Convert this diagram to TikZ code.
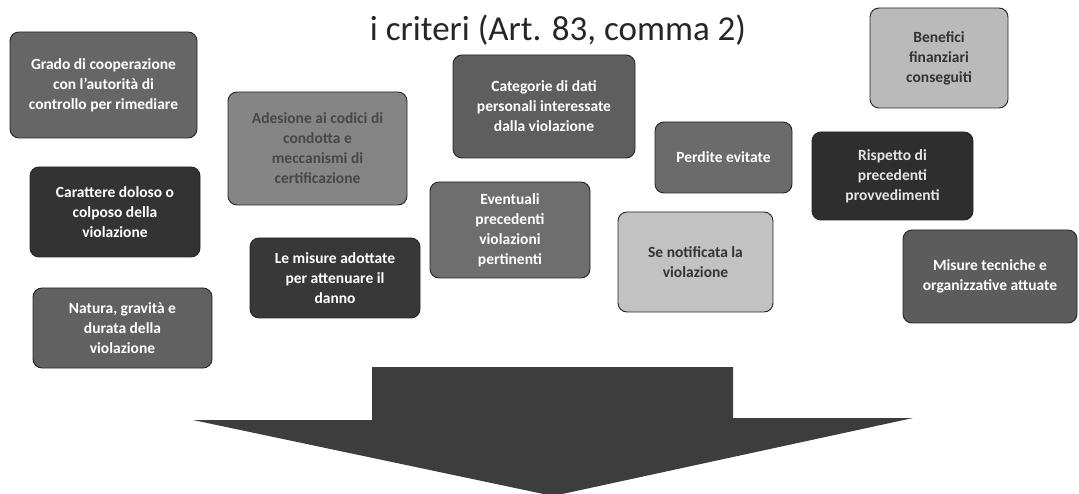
\documentclass[tikz,border=0pt]{standalone}
\usepackage{fontspec}
\setmainfont{Carlito}
\begin{document}
\begin{tikzpicture}[x=1pt,y=-1pt,
  crit/.style={draw=black!85, line width=0.9pt, rounded corners=9pt, align=center,
    font=\bfseries\fontsize{15.5}{20}\selectfont, text=white, inner sep=2pt},
  critlight/.style={crit, text=black!80},
  bigarrow/.style={fill=black!76, draw=none}]
\useasboundingbox (0,0) rectangle (1079,494);
\fill[white] (0,0) rectangle (1079,494);
\node[font=\fontsize{35}{40}\selectfont, text=black!85] (title) at (558,30) {i criteri (Art. 83, comma 2)};

\node[crit, fill=black!60, minimum width=187pt, minimum height=106pt] (grado) at (103.5,85)
  {Grado di cooperazione\\con l'autorità di\\controllo per rimediare};
\node[crit, fill=black!48, text=black!72, minimum width=179pt, minimum height=113pt] (adesione) at (317.5,148.5)
  {Adesione ai codici di\\condotta e\\meccanismi di\\certificazione};
\node[crit, fill=black!63, minimum width=182pt, minimum height=103pt] (categorie) at (544,106.5)
  {Categorie di dati\\personali interessate\\dalla violazione};
\node[crit, fill=black!57, minimum width=160pt, minimum height=96pt] (eventuali) at (510,230)
  {Eventuali\\precedenti\\violazioni\\pertinenti};
\node[crit, fill=black!78, minimum width=170pt, minimum height=80pt] (lemisure) at (335,278)
  {Le misure adottate\\per attenuare il\\danno};
\node[crit, fill=black!80, minimum width=170pt, minimum height=90pt] (carattere) at (115,212)
  {Carattere doloso o\\colposo della\\violazione};
\node[crit, fill=black!62, minimum width=179pt, minimum height=80pt] (natura) at (122.5,328)
  {Natura, gravità e\\durata della\\violazione};
\node[critlight, fill=black!27, minimum width=138pt, minimum height=100pt] (benefici) at (939,58)
  {Benefici\\finanziari\\conseguiti};
\node[crit, fill=black!58, minimum width=137pt, minimum height=71pt] (perdite) at (723.5,157.5)
  {Perdite evitate};
\node[crit, fill=black!82, text=black!10, minimum width=161pt, minimum height=88pt] (rispetto) at (892.5,176)
  {Rispetto di\\precedenti\\provvedimenti};
\node[critlight, fill=black!24, minimum width=155pt, minimum height=100pt] (notificata) at (695.5,262)
  {Se notificata la\\violazione};
\node[crit, fill=black!64, minimum width=174pt, minimum height=93pt] (tecniche) at (990,276.5)
  {Misure tecniche e\\organizzative attuate};

\fill[bigarrow] (372,367) -- (733,367) -- (733,418) -- (913,418) -- (553,496) -- (193,420) -- (372,420) -- cycle;
\end{tikzpicture}
\end{document}
